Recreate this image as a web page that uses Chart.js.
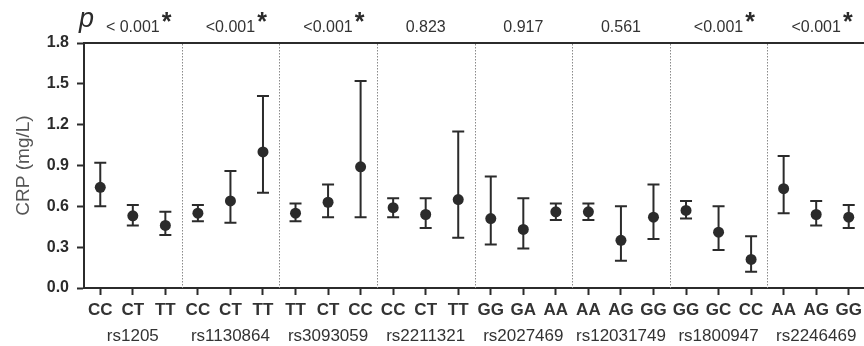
<!DOCTYPE html>
<html>
<head>
<meta charset="utf-8">
<script src="https://cdn.jsdelivr.net/npm/chart.js@4/dist/chart.umd.min.js"></script>
<style>
  html, body { margin: 0; padding: 0; background: #fff; overflow: hidden; }
  #wrap { position: absolute; left: 0; top: 0; width: 880px; height: 346px; }
</style>
</head>
<body>
<div id="wrap"><canvas id="grafico" width="880" height="346"></canvas></div>
<script>
const genotipos = ['CC', 'CT', 'TT', 'CC', 'CT', 'TT', 'TT', 'CT', 'CC', 'CC', 'CT', 'TT',
                   'GG', 'GA', 'AA', 'AA', 'AG', 'GG', 'GG', 'GC', 'CC', 'AA', 'AG', 'GG'];
const snps = ['rs1205', 'rs1130864', 'rs3093059', 'rs2211321', 'rs2027469', 'rs12031749', 'rs1800947', 'rs2246469'];
const valoresP = ['< 0.001', '<0.001', '<0.001', '0.823', '0.917', '0.561', '<0.001', '<0.001'];
const significativo = [true, true, true, false, false, false, true, true];

const medias   = [0.74, 0.53, 0.46, 0.55, 0.64, 1.00, 0.55, 0.63, 0.89, 0.59, 0.54, 0.65,
                  0.51, 0.43, 0.56, 0.56, 0.35, 0.52, 0.57, 0.41, 0.21, 0.73, 0.54, 0.52];
const inferior = [0.60, 0.46, 0.39, 0.49, 0.48, 0.70, 0.49, 0.52, 0.52, 0.52, 0.44, 0.37,
                  0.32, 0.29, 0.50, 0.50, 0.20, 0.36, 0.51, 0.28, 0.12, 0.55, 0.46, 0.44];
const superior = [0.92, 0.61, 0.56, 0.61, 0.86, 1.41, 0.62, 0.76, 1.52, 0.66, 0.66, 1.15,
                  0.82, 0.66, 0.62, 0.62, 0.60, 0.76, 0.64, 0.60, 0.38, 0.97, 0.64, 0.61];
const ticksY = [0, 0.3, 0.6, 0.9, 1.2, 1.5, 1.8];

const FONTE = "'Liberation Sans', Arial, Helvetica, sans-serif";
const ESCURO = '#2b2b2b';

// barras de erro e separadores pontilhados entre os SNPs
const barrasErro = {
    id: 'barrasErro',
    beforeDatasetsDraw(chart) {
        const {ctx, chartArea, scales: {x, y}} = chart;
        ctx.save();
        ctx.strokeStyle = '#8a8a8a';
        ctx.lineWidth = 1;
        ctx.setLineDash([1.5, 1.5]);
        for (let k = 1; k < snps.length; k++) {
            const px = Math.round((x.getPixelForValue(3 * k - 1) + x.getPixelForValue(3 * k)) / 2) + 0.5;
            ctx.beginPath();
            ctx.moveTo(px, chartArea.top + 1);
            ctx.lineTo(px, chartArea.bottom);
            ctx.stroke();
        }
        ctx.setLineDash([]);
        ctx.strokeStyle = ESCURO;
        ctx.lineWidth = 2;
        medias.forEach((m, i) => {
            const px = x.getPixelForValue(i);
            const yTop = y.getPixelForValue(superior[i]);
            const yBot = y.getPixelForValue(inferior[i]);
            ctx.beginPath();
            ctx.moveTo(px, yTop);
            ctx.lineTo(px, yBot);
            ctx.moveTo(px - 6, yTop);
            ctx.lineTo(px + 6, yTop);
            ctx.moveTo(px - 6, yBot);
            ctx.lineTo(px + 6, yBot);
            ctx.stroke();
        });
        ctx.restore();
    },
    afterDraw(chart) {
        const {ctx, scales: {xp}} = chart;
        ctx.save();
        ctx.fillStyle = ESCURO;
        ctx.textBaseline = 'alphabetic';
        ctx.font = 'italic 27px ' + FONTE;
        ctx.fillText('p', 79, 27);
        ctx.font = '16px ' + FONTE;
        const larguras = valoresP.map(t => ctx.measureText(t).width);
        ctx.font = 'bold 25px ' + FONTE;
        valoresP.forEach((t, i) => {
            if (!significativo[i]) return;
            const cx = xp.getPixelForTick(i);
            ctx.fillText('*', cx + larguras[i] / 2 + 2, 30);
        });
        ctx.restore();
    }
};

new Chart(document.getElementById('grafico'), {
    type: 'line',
    data: {
        labels: genotipos,
        datasets: [{
            label: 'CRP',
            data: medias,
            showLine: false,
            pointRadius: 5.5,
            pointHoverRadius: 5.5,
            pointBackgroundColor: ESCURO,
            pointBorderColor: ESCURO,
            pointBorderWidth: 0
        }]
    },
    options: {
        responsive: false,
        animation: false,
        events: [],
        layout: { padding: { left: 0, right: 15, top: 0, bottom: 0 } },
        plugins: { legend: { display: false }, tooltip: { enabled: false } },
        scales: {
            x: {
                type: 'category',
                position: 'bottom',
                offset: true,
                afterFit: s => { s.height = 30; },
                grid: { drawOnChartArea: false, offset: false, tickLength: 7, tickColor: ESCURO, tickWidth: 2 },
                border: { color: ESCURO, width: 2 },
                ticks: { color: '#333', padding: 5, maxRotation: 0, autoSkip: false,
                         font: { family: FONTE, size: 17, weight: 'bold' } }
            },
            x2: {
                type: 'category',
                position: 'bottom',
                labels: snps,
                offset: true,
                afterFit: s => { s.height = 28; },
                grid: { display: false, drawTicks: false },
                border: { display: false },
                ticks: { color: '#333', padding: 8, maxRotation: 0, autoSkip: false,
                         font: { family: FONTE, size: 17 } }
            },
            xp: {
                type: 'category',
                position: 'top',
                labels: valoresP,
                offset: true,
                afterFit: s => { s.height = 43; },
                grid: { display: false, drawTicks: false },
                border: { display: true, color: ESCURO, width: 2 },
                ticks: { color: '#333', padding: 6, maxRotation: 0, autoSkip: false,
                         font: { family: FONTE, size: 16 } }
            },
            y: {
                min: 0,
                max: 1.8,
                afterFit: s => { s.width = 84; },
                afterBuildTicks: s => { s.ticks = ticksY.map(v => ({ value: v })); },
                grid: { drawOnChartArea: false, tickLength: 7, tickColor: ESCURO, tickWidth: 2 },
                border: { color: ESCURO, width: 2 },
                ticks: { color: ESCURO, padding: 8,
                         font: { family: FONTE, size: 16, weight: 'bold' },
                         callback: v => v.toFixed(1) },
                title: { display: true, text: 'CRP (mg/L)', color: '#555',
                         padding: { top: 12, bottom: 0 },
                         font: { family: FONTE, size: 19 } }
            }
        }
    },
    plugins: [barrasErro]
});
</script>
</body>
</html>
